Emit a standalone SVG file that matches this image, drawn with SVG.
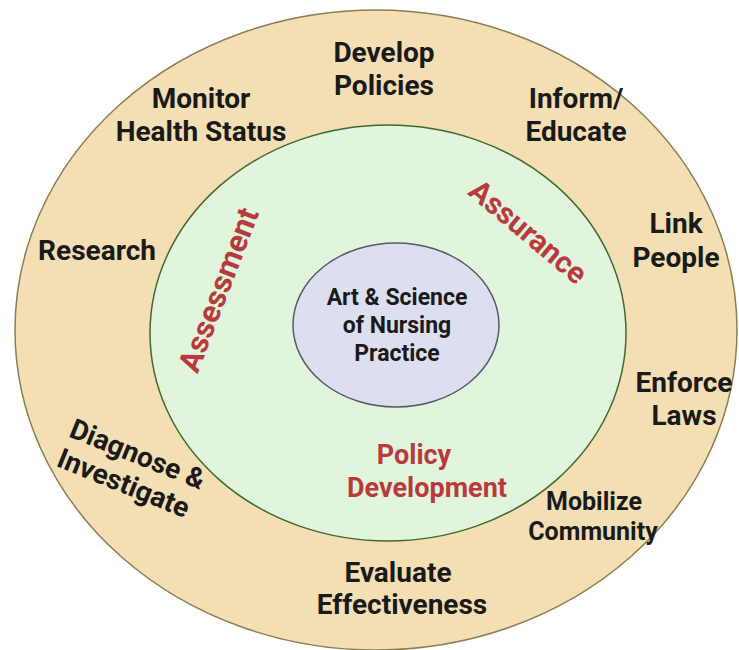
<svg xmlns="http://www.w3.org/2000/svg" width="739" height="650" viewBox="0 0 739 650">
<style>
.lbl{font-family:Roboto,"Liberation Sans",sans-serif;font-weight:bold;font-size:28px;fill:#1a1a1a;text-anchor:middle}
.red{font-family:Roboto,"Liberation Sans",sans-serif;font-weight:bold;font-size:27px;fill:#b83a3c;text-anchor:middle}
.in{font-family:Roboto,"Liberation Sans",sans-serif;font-weight:bold;font-size:23px;fill:#1a1a1a;text-anchor:middle}
</style>
<rect width="739" height="650" fill="#ffffff"/>
<g id="outer">
<ellipse cx="376" cy="330" rx="361" ry="320" fill="#f3dfb3" stroke="#8c7d52" stroke-width="1.5"/>
</g>
<g id="middle">
<ellipse cx="388" cy="333" rx="238" ry="208" fill="#e1f4dc" stroke="#3f6a2e" stroke-width="1.5"/>
</g>
<g id="inner">
<ellipse cx="396" cy="325" rx="103" ry="82" fill="#dcdfef" stroke="#555a66" stroke-width="1.5"/>
<text class="in" x="397" y="305">Art &amp; Science</text>
<text class="in" x="397" y="333">of Nursing</text>
<text class="in" x="397" y="361">Practice</text>
</g>
<g id="assessment"><text class="red" style="font-size:31px" transform="translate(219,290) rotate(-69)" y="10">Assessment</text></g>
<g id="assurance"><text class="red" style="font-size:30px" transform="translate(528,232) rotate(40)" y="10">Assurance</text></g>
<g id="policy">
<text class="red" x="414" y="464">Policy</text>
<text class="red" x="427" y="497">Development</text>
</g>
<g id="develop"><text class="lbl" x="384" y="62">Develop</text><text class="lbl" x="384" y="95">Policies</text></g>
<g id="monitor"><text class="lbl" x="201" y="108">Monitor</text><text class="lbl" x="201" y="141">Health Status</text></g>
<g id="inform"><text class="lbl" x="576" y="108">Inform/</text><text class="lbl" x="576" y="141">Educate</text></g>
<g id="link"><text class="lbl" x="676" y="233">Link</text><text class="lbl" x="676" y="267">People</text></g>
<g id="research"><text class="lbl" x="97" y="260">Research</text></g>
<g id="enforce"><text class="lbl" x="684" y="392">Enforce</text><text class="lbl" x="684" y="425">Laws</text></g>
<g id="mobilize"><text class="lbl" style="font-size:25px" x="594" y="510">Mobilize</text><text class="lbl" style="font-size:25px" x="593" y="540">Community</text></g>
<g id="evaluate"><text class="lbl" x="398" y="582">Evaluate</text><text class="lbl" x="402" y="614">Effectiveness</text></g>
<g id="diagnose">
<text class="lbl" transform="translate(134,463) rotate(22)">Diagnose &amp;</text>
<text class="lbl" transform="translate(120,492) rotate(22)">Investigate</text>
</g>
<g id="connectors"></g>
</svg>
